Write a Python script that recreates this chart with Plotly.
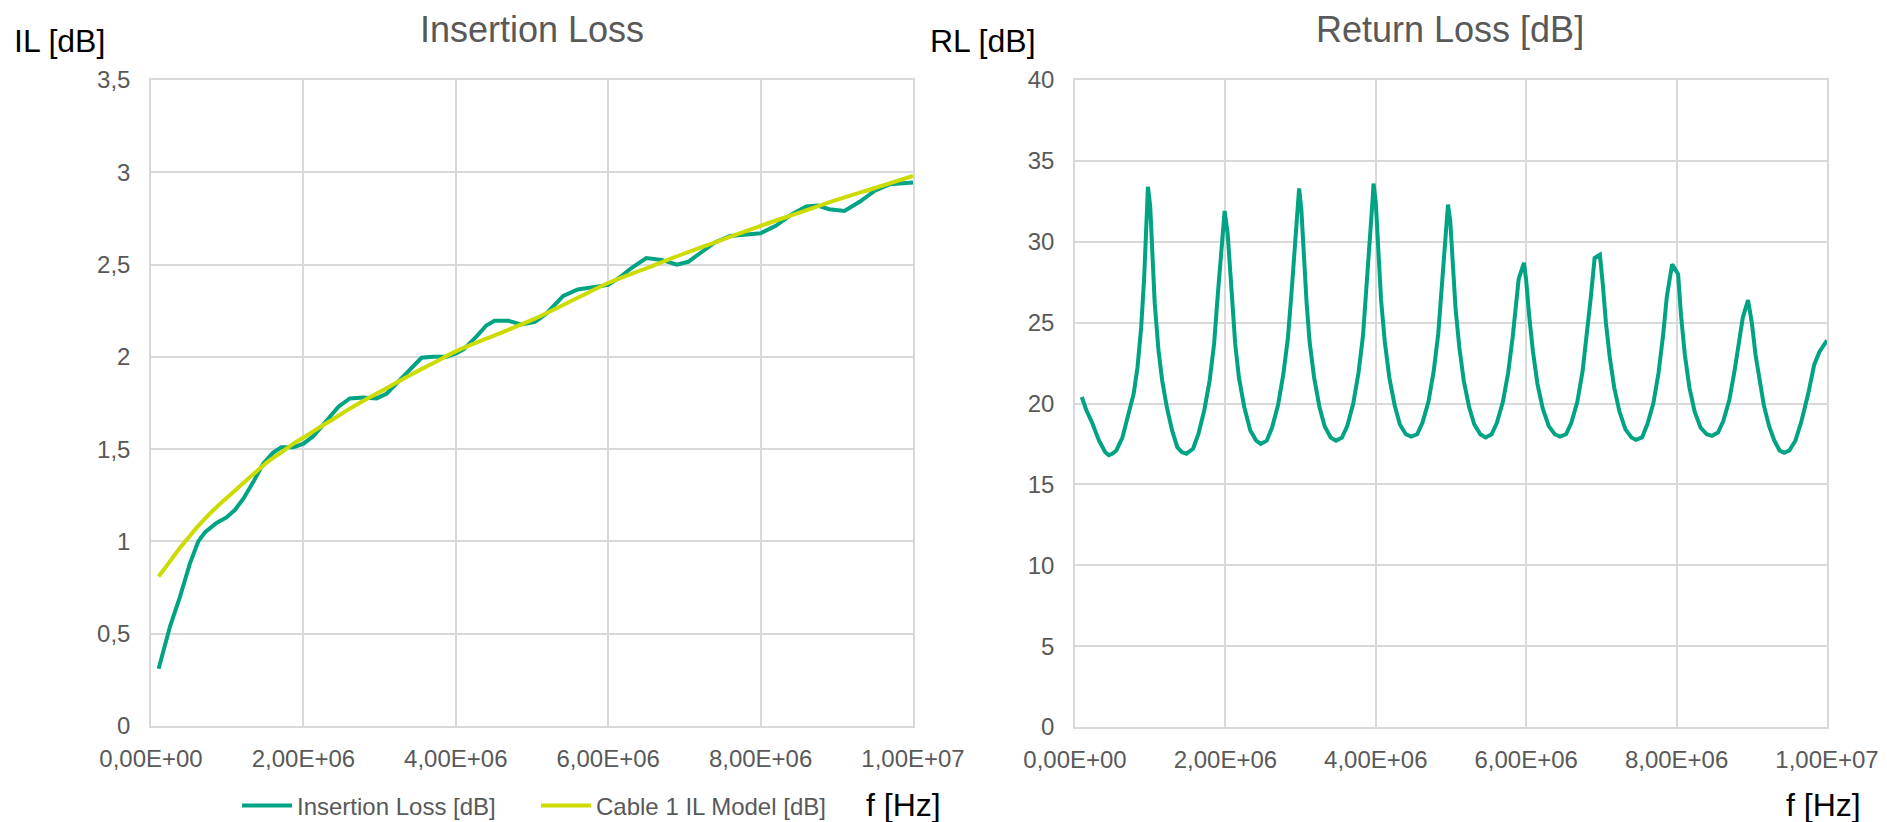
import plotly.graph_objects as go

# target picture size and the page's default body margin (the plot div starts 8px in)
W, H = 1887, 822
OFF = 8
FW, FH = W - OFF, H - OFF

# ---------------- data ----------------
il_freq_mhz = [0.10, 0.25, 0.38, 0.51, 0.62, 0.71, 0.86, 0.99, 1.10, 1.21, 1.34, 1.47, 1.60, 1.71, 1.87,
               2.00, 2.13, 2.30, 2.46, 2.61, 2.78, 2.96, 3.09, 3.22, 3.40, 3.55, 3.70, 3.88, 4.01, 4.10,
               4.27, 4.40, 4.51, 4.69, 4.86, 5.04, 5.19, 5.41, 5.60, 5.80, 6.00, 6.15, 6.30, 6.50, 6.70,
               6.90, 7.05, 7.20, 7.40, 7.60, 7.80, 8.00, 8.20, 8.40, 8.60, 8.75, 8.90, 9.10, 9.30, 9.50,
               9.70, 9.85, 10.00]
il_measured = [0.31, 0.54, 0.70, 0.88, 1.00, 1.05, 1.10, 1.13, 1.17, 1.23, 1.32, 1.42, 1.48, 1.51, 1.51,
               1.53, 1.57, 1.65, 1.73, 1.775, 1.78, 1.775, 1.80, 1.855, 1.935, 1.995, 2.00, 2.00, 2.02, 2.04,
               2.11, 2.17, 2.195, 2.195, 2.175, 2.19, 2.235, 2.33, 2.365, 2.375, 2.39, 2.43, 2.48, 2.535, 2.525,
               2.50, 2.515, 2.56, 2.62, 2.655, 2.66, 2.67, 2.71, 2.77, 2.815, 2.82, 2.80, 2.79, 2.84, 2.90,
               2.935, 2.94, 2.945]

model_freq_mhz = [0.10, 0.20, 0.29, 0.38, 0.47, 0.58, 0.69, 0.82, 0.95, 1.10, 1.25, 1.40, 1.56, 1.72,
                  1.87, 2.05, 2.22, 2.40, 2.57, 2.80, 3.00, 3.22, 3.44, 3.70, 4.00, 4.50,
                  5.00, 5.60, 6.00, 6.50, 7.00, 7.50, 8.00, 8.50, 9.00, 9.50, 10.00]
il_model = [0.81, 0.865, 0.915, 0.965, 1.01, 1.065, 1.115, 1.17, 1.22, 1.275, 1.33, 1.385, 1.44, 1.485,
            1.53, 1.575, 1.62, 1.665, 1.71, 1.765, 1.81, 1.86, 1.91, 1.965, 2.03, 2.115,
            2.20, 2.32, 2.40, 2.48, 2.56, 2.635, 2.71, 2.78, 2.85, 2.915, 2.98]

rl_freq_mhz = [0.09, 0.15, 0.22, 0.32, 0.40, 0.45, 0.50, 0.55, 0.63, 0.70, 0.78, 0.83, 0.88, 0.92, 0.95,
               0.97, 1.00, 1.03, 1.06, 1.11, 1.16, 1.22, 1.29, 1.36, 1.42, 1.48, 1.57, 1.64, 1.72, 1.79,
               1.85, 1.90, 1.95, 1.99, 2.03, 2.08, 2.13, 2.18, 2.25, 2.33, 2.41, 2.47, 2.55, 2.62, 2.70,
               2.77, 2.83, 2.88, 2.93, 2.96, 2.98, 3.01, 3.04, 3.08, 3.12, 3.18, 3.25, 3.32, 3.40, 3.47,
               3.55, 3.62, 3.70, 3.77, 3.83, 3.88, 3.93, 3.96, 3.97, 4.00, 4.03, 4.07, 4.12, 4.18, 4.25,
               4.32, 4.40, 4.47, 4.55, 4.62, 4.70, 4.77, 4.83, 4.88, 4.93, 4.96, 4.99, 5.02, 5.06, 5.11,
               5.17, 5.24, 5.31, 5.39, 5.46, 5.54, 5.61, 5.69, 5.76, 5.82, 5.87, 5.90, 5.97, 6.00, 6.04,
               6.09, 6.15, 6.22, 6.30, 6.38, 6.45, 6.53, 6.60, 6.68, 6.75, 6.81, 6.86, 6.91, 6.98, 7.02,
               7.06, 7.11, 7.17, 7.24, 7.32, 7.40, 7.46, 7.54, 7.61, 7.69, 7.76, 7.82, 7.87, 7.94, 8.02,
               8.06, 8.11, 8.17, 8.24, 8.32, 8.40, 8.47, 8.55, 8.62, 8.70, 8.77, 8.83, 8.88, 8.95, 9.00,
               9.05, 9.10, 9.16, 9.23, 9.30, 9.37, 9.43, 9.50, 9.58, 9.66, 9.75, 9.83, 9.90, 10.00]
rl_values = [20.4, 19.6, 18.9, 17.7, 17.0, 16.8, 16.9, 17.1, 17.9, 19.1, 20.6, 22.2, 24.7, 27.8, 31.0,
             33.4, 32.2, 28.9, 26.2, 23.3, 21.4, 19.8, 18.35, 17.3, 17.0, 16.9, 17.2, 18.1, 19.6, 21.4,
             23.7, 26.8, 30.1, 31.9, 30.5, 26.8, 23.7, 21.6, 19.8, 18.35, 17.7, 17.5, 17.7, 18.5, 19.9,
             21.8, 24.0, 26.9, 30.3, 32.8, 33.3, 32.0, 29.0, 26.2, 23.8, 21.6, 19.8, 18.6, 17.9, 17.7,
             17.9, 18.6, 20.0, 21.9, 24.2, 27.2, 30.8, 32.8, 33.6, 32.4, 29.3, 26.4, 23.8, 21.6, 19.9,
             18.7, 18.1, 17.95, 18.1, 18.8, 20.1, 22.0, 24.3, 27.2, 30.3, 32.3, 31.3, 28.6, 25.9, 23.5,
             21.4, 19.8, 18.7, 18.1, 17.9, 18.1, 18.8, 20.1, 21.9, 24.1, 26.6, 27.7, 28.7, 27.6, 25.4,
             23.2, 21.2, 19.7, 18.6, 18.1, 17.95, 18.1, 18.8, 20.1, 22.0, 24.4, 26.6, 29.0, 29.2, 27.3,
             25.0, 22.9, 21.0, 19.5, 18.4, 17.9, 17.75, 17.9, 18.7, 20.0, 21.9, 24.2, 26.6, 28.6, 28.0,
             25.4, 23.0, 21.0, 19.5, 18.5, 18.1, 18.0, 18.2, 18.9, 20.2, 22.0, 24.0, 25.3, 26.4, 25.0,
             23.0, 21.4, 19.9, 18.6, 17.7, 17.1, 16.95, 17.1, 17.7, 18.9, 20.6, 22.4, 23.2, 23.9]

x_tick_vals = [0, 2e6, 4e6, 6e6, 8e6, 1e7]
x_tick_text = ["0,00E+00", "2,00E+06", "4,00E+06", "6,00E+06", "8,00E+06", "1,00E+07"]
il_tick_vals = [0, 0.5, 1, 1.5, 2, 2.5, 3, 3.5]
il_tick_text = ["0", "0,5", "1", "1,5", "2", "2,5", "3", "3,5"]
rl_tick_vals = [0, 5, 10, 15, 20, 25, 30, 35, 40]
rl_tick_text = ["0", "5", "10", "15", "20", "25", "30", "35", "40"]

# ---------------- styles ----------------
TEAL = "#00A383"
LIME = "#CCDB00"
GRID = "#D9D9D9"
TXT = "#595959"
FONT = "Liberation Sans, Arial, sans-serif"

fig = go.Figure()
fig.add_trace(go.Scatter(x=[f * 1e6 for f in il_freq_mhz], y=il_measured, mode="lines",
                         name="Insertion Loss [dB]", line=dict(color=TEAL, width=4),
                         xaxis="x", yaxis="y"))
fig.add_trace(go.Scatter(x=[f * 1e6 for f in model_freq_mhz], y=il_model, mode="lines",
                         name="Cable 1 IL Model [dB]", line=dict(color=LIME, width=4, shape="spline"),
                         xaxis="x", yaxis="y"))
fig.add_trace(go.Scatter(x=[f * 1e6 for f in rl_freq_mhz], y=rl_values, mode="lines",
                         name="Return Loss [dB]", line=dict(color=TEAL, width=4),
                         xaxis="x2", yaxis="y2", showlegend=False))

def px_x(p):
    return (p - OFF) / FW

def px_y(p):
    return 1 - (p - OFF) / FH

axis_common = dict(showgrid=True, gridcolor=GRID, gridwidth=1.5, zeroline=False,
                   showline=True, linecolor=GRID, linewidth=1.5, mirror=True, ticks="",
                   automargin=False, tickfont=dict(size=24, color=TXT, family=FONT))

fig.update_layout(
    template="none",
    width=FW, height=FH,
    margin=dict(l=0, r=0, t=0, b=0, pad=0, autoexpand=False),
    paper_bgcolor="white", plot_bgcolor="white",
    font=dict(family=FONT, color=TXT),
    xaxis=dict(domain=[px_x(151), px_x(913)], range=[0, 1e7], tickmode="array",
               tickvals=x_tick_vals, ticktext=x_tick_text, anchor="y", ticklabelstandoff=10, **axis_common),
    yaxis=dict(domain=[px_y(726), px_y(80)], range=[0, 3.5], tickmode="array",
               tickvals=il_tick_vals, ticktext=il_tick_text, anchor="x", ticklabelstandoff=14, **axis_common),
    xaxis2=dict(domain=[px_x(1075), px_x(1827)], range=[0, 1e7], tickmode="array",
                tickvals=x_tick_vals, ticktext=x_tick_text, anchor="y2", ticklabelstandoff=10, **axis_common),
    yaxis2=dict(domain=[px_y(727), px_y(80)], range=[0, 40], tickmode="array",
                tickvals=rl_tick_vals, ticktext=rl_tick_text, anchor="x2", ticklabelstandoff=14, **axis_common),
    showlegend=True,
    legend=dict(orientation="h", x=px_x(237), y=px_y(806), xanchor="left", yanchor="middle",
                font=dict(size=24, color=TXT, family=FONT), itemwidth=50, entrywidth=234,
                bgcolor="rgba(0,0,0,0)", borderwidth=0, tracegroupgap=0),
)

annots = [
    dict(text="Insertion Loss", x=px_x(532), y=px_y(29.5), font=dict(size=36, color=TXT, family=FONT)),
    dict(text="Return Loss [dB]", x=px_x(1450), y=px_y(29.5), font=dict(size=36, color=TXT, family=FONT)),
    dict(text="IL [dB]", x=px_x(59), y=px_y(41), font=dict(size=32, color="black", family=FONT)),
    dict(text="RL [dB]", x=px_x(983), y=px_y(41), font=dict(size=32, color="black", family=FONT)),
    dict(text="f [Hz]", x=px_x(903), y=px_y(805), font=dict(size=32, color="black", family=FONT)),
    dict(text="f [Hz]", x=px_x(1823), y=px_y(805), font=dict(size=32, color="black", family=FONT)),
]
for a in annots:
    fig.add_annotation(xref="paper", yref="paper", showarrow=False, xanchor="center",
                       yanchor="middle", text=a["text"], x=a["x"], y=a["y"], font=a["font"])

fig.write_html("out.html")
